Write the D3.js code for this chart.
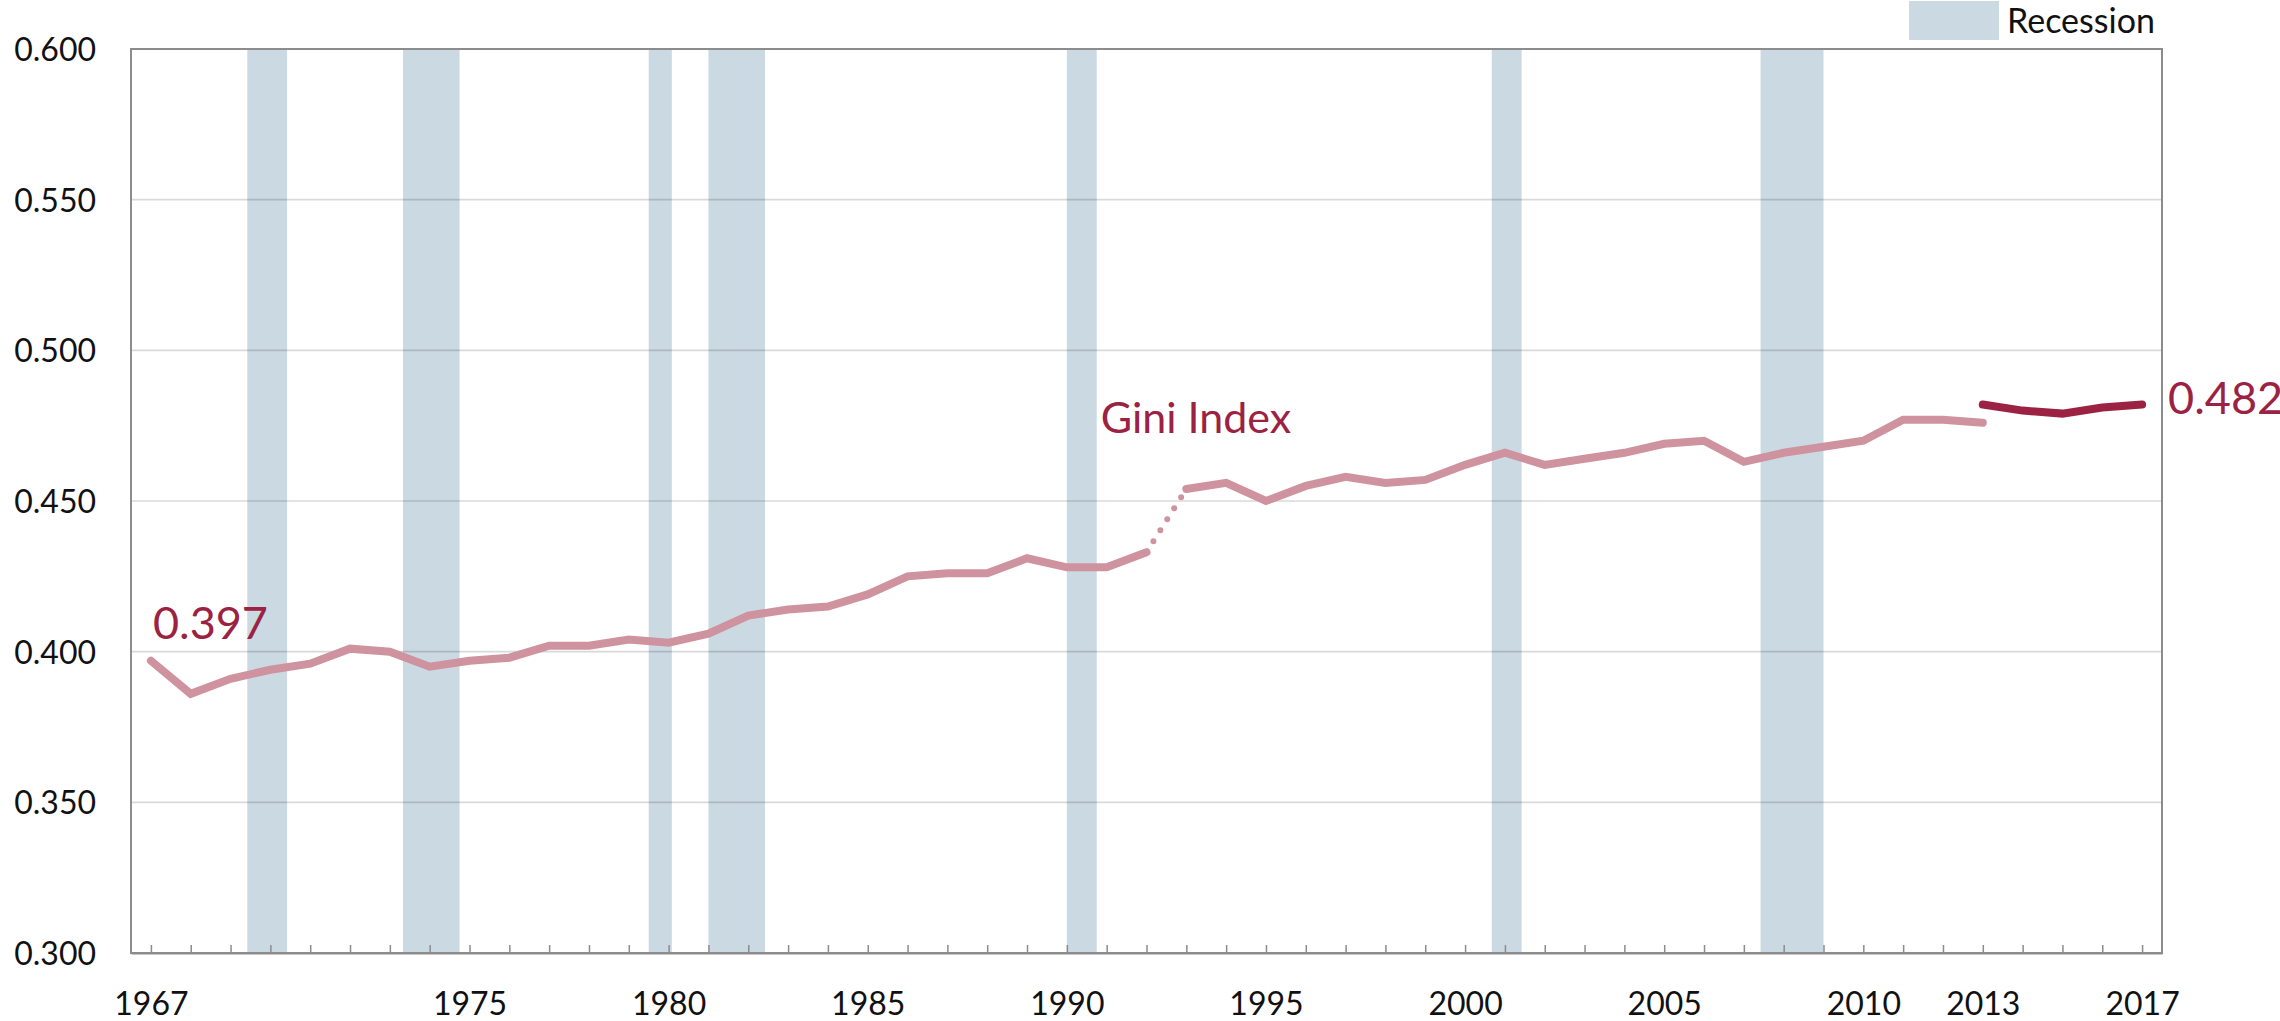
<!DOCTYPE html>
<html>
<head>
<meta charset="utf-8">
<script src="https://cdn.jsdelivr.net/npm/d3@7"></script>
<style>
  body { margin: 0; background: #fff; }
  svg { display: block; font-family: Lato, 'Noto Sans', sans-serif; }
</style>
</head>
<body>
<svg id="chart"></svg>
<script>
const w = 2280;
const h = 1021;

// Gini index (households), old processing 1967-2013
const years = [1967, 1968, 1969, 1970, 1971, 1972, 1973, 1974, 1975, 1976,
  1977, 1978, 1979, 1980, 1981, 1982, 1983, 1984, 1985, 1986,
  1987, 1988, 1989, 1990, 1991, 1992, 1993, 1994, 1995, 1996,
  1997, 1998, 1999, 2000, 2001, 2002, 2003, 2004, 2005, 2006,
  2007, 2008, 2009, 2010, 2011, 2012, 2013];
const gini = [0.397, 0.386, 0.391, 0.394, 0.396, 0.401, 0.400, 0.395, 0.397, 0.398,
  0.402, 0.402, 0.404, 0.403, 0.406, 0.412, 0.414, 0.415, 0.419, 0.425,
  0.426, 0.426, 0.431, 0.428, 0.428, 0.433, 0.454, 0.456, 0.450, 0.455,
  0.458, 0.456, 0.457, 0.462, 0.466, 0.462, 0.464, 0.466, 0.469, 0.470,
  0.463, 0.466, 0.468, 0.470, 0.477, 0.477, 0.476];

// updated processing 2013-2017
const yearsNew = [2013, 2014, 2015, 2016, 2017];
const giniNew = [0.482, 0.480, 0.479, 0.481, 0.482];

// recession shading, in chart year units
const recessionStart = [1969.42, 1973.33, 1979.5, 1981.0, 1990.0, 2000.67, 2007.42];
const recessionEnd = [1970.42, 1974.75, 1980.08, 1982.42, 1990.75, 2001.42, 2009.0];

const yTicks = [0.300, 0.350, 0.400, 0.450, 0.500, 0.550, 0.600];
const xLabels = [1967, 1975, 1980, 1985, 1990, 1995, 2000, 2005, 2010, 2013, 2017];

const plotLeft = 131;
const plotRight = 2162;
const plotTop = 49;
const plotBottom = 953;

const svg = d3.select('#chart').attr('width', w).attr('height', h);

const xScale = d3.scaleLinear().domain([1966.5, 2017.5]).range([plotLeft, plotRight]);
const yScale = d3.scaleLinear().domain([0.3, 0.6]).range([plotBottom, plotTop]);

// recession bars
svg.append('g')
  .selectAll('rect')
  .data(recessionStart)
  .enter()
  .append('rect')
  .attr('x', (d) => xScale(d))
  .attr('y', plotTop)
  .attr('width', (d, i) => xScale(recessionEnd[i]) - xScale(d))
  .attr('height', plotBottom - plotTop)
  .attr('fill', '#cad9e2');

// gridlines
svg.append('g')
  .selectAll('line')
  .data(yTicks.filter((d) => d > 0.3 && d < 0.6))
  .enter()
  .append('line')
  .attr('x1', plotLeft)
  .attr('x2', plotRight)
  .attr('y1', (d) => yScale(d))
  .attr('y2', (d) => yScale(d))
  .attr('stroke', '#000')
  .attr('stroke-opacity', 0.15)
  .attr('stroke-width', 1.6);

// frame
svg.append('rect')
  .attr('x', plotLeft)
  .attr('y', plotTop)
  .attr('width', plotRight - plotLeft)
  .attr('height', plotBottom - plotTop)
  .attr('fill', 'none')
  .attr('stroke', '#8c8c8c')
  .attr('stroke-width', 2);

// x axis: a tick every year, labels on selected years
const xAxis = d3.axisBottom(xScale)
  .tickValues(d3.range(1967, 2018))
  .tickSizeInner(-8)
  .tickSizeOuter(0)
  .tickFormat((d) => (xLabels.includes(d) ? d : ''));

const gx = svg.append('g')
  .attr('transform', `translate(0, ${plotBottom})`)
  .call(xAxis);
gx.select('.domain').attr('stroke', '#8c8c8c').attr('stroke-width', 2);
gx.selectAll('.tick line').attr('stroke', '#8c8c8c').attr('stroke-width', 1.5);
gx.selectAll('.tick text')
  .attr('y', 62)
  .attr('dy', 0)
  .attr('fill', '#111')
  .style('font-size', '32px')
  .style('font-family', 'Lato');

// y axis labels
const yAxis = d3.axisLeft(yScale)
  .tickValues(yTicks)
  .tickSize(0)
  .tickPadding(35)
  .tickFormat(d3.format('.3f'));

const gy = svg.append('g')
  .attr('transform', `translate(${plotLeft}, 0)`)
  .call(yAxis);
gy.select('.domain').remove();
gy.selectAll('.tick text')
  .attr('dy', '0.36em')
  .attr('fill', '#111')
  .style('font-size', '32px')
  .style('font-family', 'Lato');

// lines
const line = d3.line()
  .x((d) => xScale(d[0]))
  .y((d) => yScale(d[1]));

const oldPts = years.map((d, i) => [d, gini[i]]);
const breakAt = years.indexOf(1992);
const lightColor = '#cf939f';
const darkColor = '#9b2242';

svg.append('path')
  .datum(oldPts.slice(0, breakAt + 1))
  .attr('d', line)
  .attr('fill', 'none')
  .attr('stroke', lightColor)
  .attr('stroke-width', 8)
  .attr('stroke-linecap', 'round');

svg.append('path')
  .datum(oldPts.slice(breakAt, breakAt + 2))
  .attr('d', line)
  .attr('fill', 'none')
  .attr('stroke', lightColor)
  .attr('stroke-width', 6)
  .attr('stroke-dasharray', '0 13')
  .attr('stroke-linecap', 'round');

svg.append('path')
  .datum(oldPts.slice(breakAt + 1))
  .attr('d', line)
  .attr('fill', 'none')
  .attr('stroke', lightColor)
  .attr('stroke-width', 8)
  .attr('stroke-linecap', 'round');

svg.append('path')
  .datum(yearsNew.map((d, i) => [d, giniNew[i]]))
  .attr('d', line)
  .attr('fill', 'none')
  .attr('stroke', darkColor)
  .attr('stroke-width', 8)
  .attr('stroke-linecap', 'round');

// annotations
svg.append('text')
  .attr('x', xScale(1967) + 2)
  .attr('y', yScale(gini[0]) - 22)
  .attr('fill', darkColor)
  .style('font-size', '45px')
  .text(d3.format('.3f')(gini[0]));

svg.append('text')
  .attr('x', xScale(2017) + 26)
  .attr('y', yScale(giniNew[giniNew.length - 1]) + 9)
  .attr('fill', darkColor)
  .style('font-size', '45px')
  .text(d3.format('.3f')(giniNew[giniNew.length - 1]));

svg.append('text')
  .attr('x', xScale(1990.85))
  .attr('y', yScale(0.4727))
  .attr('fill', darkColor)
  .style('font-size', '43px')
  .text('Gini Index');

// legend
svg.append('rect')
  .attr('x', 1909)
  .attr('y', 1)
  .attr('width', 90)
  .attr('height', 39)
  .attr('fill', '#cad9e2');

svg.append('text')
  .attr('x', 2007)
  .attr('y', 33)
  .attr('fill', '#111')
  .style('font-size', '34px')
  .text('Recession');
</script>
</body>
</html>
